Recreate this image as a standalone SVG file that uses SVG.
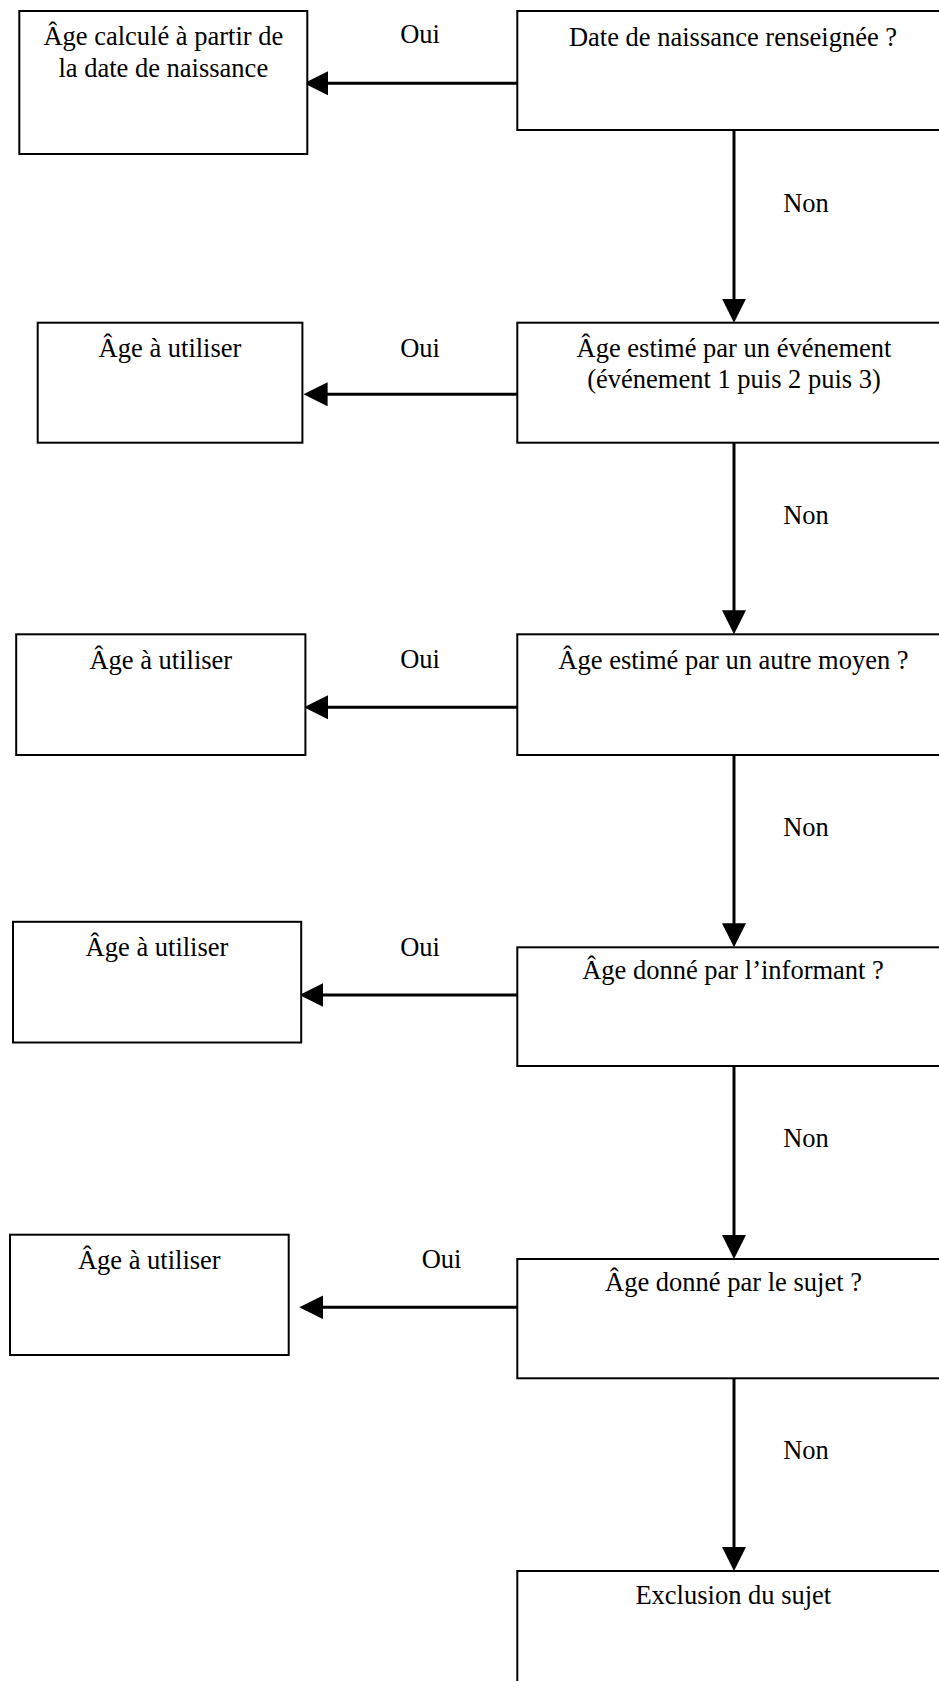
<svg xmlns="http://www.w3.org/2000/svg" width="939" height="1681" viewBox="0 0 939 1681">
<style>
.box{fill:#fff;stroke:#000;stroke-width:2}
.t{font-family:"Liberation Serif","Times New Roman",serif;font-size:26.5px;fill:#000;text-anchor:middle}
.c{stroke:#000;stroke-width:3;fill:none}
</style>
<defs>
<marker id="ah" markerUnits="userSpaceOnUse" markerWidth="24" markerHeight="24" refX="14" refY="12" orient="auto" viewBox="0 0 24 24">
<path d="M0,0 L24,12 L0,24 z" fill="#000"/>
</marker>
</defs>
<g id="connectors">
<line class="c" x1="517" y1="83.3" x2="314" y2="83.3" marker-end="url(#ah)"/>
<line class="c" x1="517" y1="394.3" x2="313.6" y2="394.3" marker-end="url(#ah)"/>
<line class="c" x1="517" y1="707.3" x2="314" y2="707.3" marker-end="url(#ah)"/>
<line class="c" x1="517" y1="995" x2="309.4" y2="995" marker-end="url(#ah)"/>
<line class="c" x1="517" y1="1307.3" x2="309.3" y2="1307.3" marker-end="url(#ah)"/>
<line class="c" x1="734" y1="130" x2="734" y2="312.7" marker-end="url(#ah)"/>
<line class="c" x1="734" y1="442.7" x2="734" y2="624.3" marker-end="url(#ah)"/>
<line class="c" x1="734" y1="755" x2="734" y2="937.3" marker-end="url(#ah)"/>
<line class="c" x1="734" y1="1066" x2="734" y2="1249" marker-end="url(#ah)"/>
<line class="c" x1="734" y1="1378.3" x2="734" y2="1561" marker-end="url(#ah)"/>
<text class="t" x="420" y="42.8">Oui</text>
<text class="t" x="420" y="357">Oui</text>
<text class="t" x="420" y="667.7">Oui</text>
<text class="t" x="420" y="956">Oui</text>
<text class="t" x="441.6" y="1268">Oui</text>
<text class="t" x="806" y="211.7">Non</text>
<text class="t" x="806" y="523.6">Non</text>
<text class="t" x="806" y="835.5">Non</text>
<text class="t" x="806" y="1147.4">Non</text>
<text class="t" x="806" y="1459.3">Non</text>
</g>
<g id="q1">
<rect class="box" x="517.3" y="11" width="440" height="119"/>
<text class="t" x="733" y="45.7">Date de naissance renseignée ?</text>
</g>
<g id="r1">
<rect class="box" x="19.3" y="11" width="288" height="143"/>
<text class="t" x="163.3" y="45">Âge calculé à partir de</text>
<text class="t" x="163.3" y="76.7">la date de naissance</text>
</g>
<g id="q2">
<rect class="box" x="517.3" y="322.7" width="440" height="120"/>
<text class="t" x="734" y="356.7">Âge estimé par un événement</text>
<text class="t" x="734" y="388.3">(événement 1 puis 2 puis 3)</text>
</g>
<g id="r2">
<rect class="box" x="37.7" y="322.7" width="264.7" height="120"/>
<text class="t" x="170" y="356.7">Âge à utiliser</text>
</g>
<g id="q3">
<rect class="box" x="517.3" y="634.3" width="440" height="120.7"/>
<text class="t" x="733.5" y="669.3">Âge estimé par un autre moyen ?</text>
</g>
<g id="r3">
<rect class="box" x="16.2" y="634.3" width="289.2" height="120.7"/>
<text class="t" x="160.8" y="669.3">Âge à utiliser</text>
</g>
<g id="q4">
<rect class="box" x="517.3" y="947.3" width="440" height="118.7"/>
<text class="t" x="733" y="979.3">Âge donné par l’informant ?</text>
</g>
<g id="r4">
<rect class="box" x="13" y="921.8" width="288.2" height="120.7"/>
<text class="t" x="157" y="956">Âge à utiliser</text>
</g>
<g id="q5">
<rect class="box" x="517.3" y="1259" width="440" height="119.3"/>
<text class="t" x="733.5" y="1290.7">Âge donné par le sujet ?</text>
</g>
<g id="r5">
<rect class="box" x="10" y="1234.7" width="278.7" height="120.3"/>
<text class="t" x="149.3" y="1269.3">Âge à utiliser</text>
</g>
<g id="q6">
<rect class="box" x="517.3" y="1571" width="440" height="130"/>
<text class="t" x="733.3" y="1604.3">Exclusion du sujet</text>
</g>
</svg>
